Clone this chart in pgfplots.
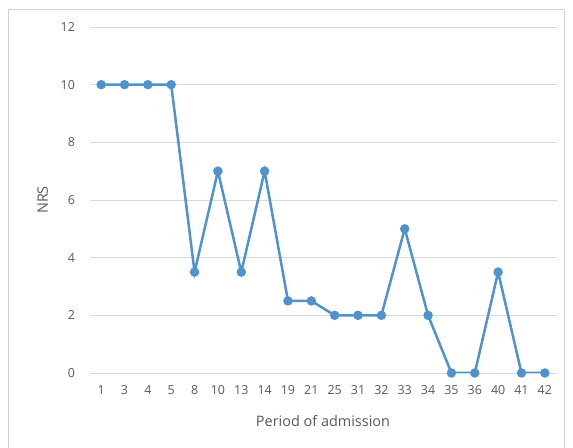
\documentclass[border=0pt]{standalone}
\usepackage{pgfplots}
\pgfplotsset{compat=1.18}
\usepackage{fontspec}
\setmainfont{Open Sans}
\definecolor{lineblue}{RGB}{80,146,203}
\definecolor{txtgray}{RGB}{89,89,89}
\definecolor{gridgray}{RGB}{217,217,217}
\definecolor{framegray}{RGB}{210,210,210}
\begin{document}
\begin{tikzpicture}
\useasboundingbox (0bp,0bp) rectangle (573bp,448bp);
\draw[framegray, line width=1bp] (8.5bp,-2bp) rectangle (564.5bp,438bp);
\begin{axis}[
    at={(89.5bp,75bp)}, anchor=south west,
    scale only axis, width=467bp, height=346bp,
    xmin=-0.5, xmax=19.5, ymin=0, ymax=12,
    xtick=data,
    xticklabels={1,3,4,5,8,10,13,14,19,21,25,31,32,33,34,35,36,40,41,42},
    ytick={0,2,4,6,8,10,12},
    ymajorgrids=true,
    grid style={gridgray, line width=0.8bp},
    axis line style={draw=none},
    axis x line*=bottom,
    x axis line style={gridgray, line width=0.8bp},
    major tick length=0pt,
    tick label style={font=\fontsize{12.5}{14}\selectfont, text=txtgray},
    /pgf/number format/assume math mode=true,
    xticklabel style={yshift=-9bp},
    yticklabel style={xshift=-11bp},
    xlabel={Period of admission},
    ylabel={NRS},
    label style={font=\fontsize{14.5}{16}\selectfont, text=txtgray},
    xlabel style={yshift=-14bp},
    ylabel style={yshift=6bp},
]
\addplot[lineblue, line width=2.5bp, mark=*, mark size=3.4bp, mark options={fill=lineblue, draw=lineblue}]
coordinates {
(0,10)(1,10)(2,10)(3,10)(4,3.5)(5,7)(6,3.5)(7,7)(8,2.5)(9,2.5)
(10,2)(11,2)(12,2)(13,5)(14,2)(15,0)(16,0)(17,3.5)(18,0)(19,0)
};
\end{axis}
\end{tikzpicture}
\end{document}
